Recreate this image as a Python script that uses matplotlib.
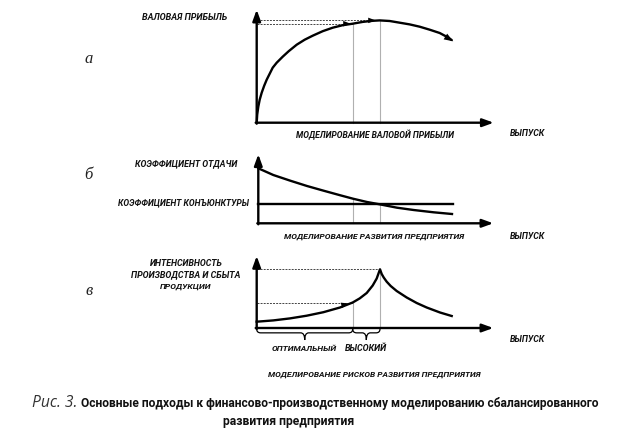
import matplotlib
matplotlib.use('Agg')
import matplotlib.pyplot as plt
from matplotlib import font_manager
from matplotlib.path import Path
from matplotlib.patches import PathPatch

W, H = 623, 429

# all curve values are read off the picture, in pixels measured
# from the origin of each panel (x to the right, y upwards)

# panel а - gross profit
profit_x = [0, 0.5, 1.6, 3, 5, 7.5, 10, 13, 16, 20, 26, 32, 40, 48, 56, 66,
            76, 86, 96, 106, 116, 123, 133, 143, 153, 163, 173, 183, 189, 195]
profit_y = [0, 8, 16, 23, 30, 37, 43, 49, 55, 60, 66, 71.5, 78, 83, 87, 91.5,
            95, 97.5, 99, 100.8, 101.9, 102.3, 101.7, 100, 98.3, 96, 93, 89.7,
            86.5, 82.7]
profit_marks_x = [96, 123]
profit_marks_y = [99, 102.3]

# panel б - return coefficient vs market coefficient
return_x = [0, 15, 32, 48.7, 65.3, 82, 94.7, 108.7, 121.3, 138.7, 155.3,
            175.3, 193.7]
return_y = [55, 48.3, 42.6, 37.3, 32.6, 28, 24.6, 21.3, 19, 15.6, 13.3, 11,
            9.3]
market_level = 19
market_end = 194.7
return_marks_x = [94.5, 121.3]
return_marks_y = [24.6, 19]

# panel в - production and sales intensity
intens_x = [0, 16.7, 33.3, 50, 66.7, 83.3, 96, 103, 110, 116, 120, 123.3,
            125, 127, 130, 134, 140, 150, 160, 170, 183.3, 195]
intens_y = [6.3, 7.6, 9.6, 12.3, 15.8, 20.5, 25.5, 29.6, 35, 42.5, 49.5, 58.7,
            54, 50.5, 46.3, 42, 37, 30.5, 25, 20.5, 15.5, 12]
intens_marks_x = [96, 123.3]
intens_marks_y = [25.5, 58.7]
risk_zones = ['ОПТИМАЛЬНЫЙ', 'ВЫСОКИЙ']

caption_prefix = 'Рис. 3.'
caption_line1 = ('Основные подходы к финансово-производственному '
                 'моделированию сбалансированного')
caption_line2 = 'развития предприятия'


def pick_font(names):
    for name in names:
        try:
            font_manager.findfont(font_manager.FontProperties(family=name),
                                  fallback_to_default=False)
            return name
        except ValueError:
            pass
    return 'DejaVu Sans'


label_font = pick_font(['Liberation Sans Narrow', 'Roboto', 'Liberation Sans'])
caption_font = pick_font(['Roboto', 'Open Sans', 'DejaVu Sans'])
prefix_font = pick_font(['Open Sans', 'Roboto', 'DejaVu Sans'])
letter_font = pick_font(['Liberation Serif', 'DejaVu Serif'])

fig = plt.figure(figsize=(W / 100, H / 100), dpi=100)
renderer = fig.canvas.get_renderer()


def panel(ox, oy):
    # axes in which one data unit is one pixel, origin at (ox, oy)
    ax = fig.add_axes([(ox - 10) / W, (H - oy - 20) / H, 260 / W, 140 / H])
    ax.set_xlim(-10, 250)
    ax.set_ylim(-20, 120)
    ax.set_axis_off()
    ax.patch.set_alpha(0)
    return ax


def axis_arrows(ax, xend, yend):
    style = dict(arrowstyle='-|>,head_length=0.55,head_width=0.2',
                 lw=1.7, color='black', shrinkA=0, shrinkB=0,
                 mutation_scale=12)
    ax.annotate('', xy=(xend, 0), xytext=(-1, 0), arrowprops=style,
                annotation_clip=False)
    ax.annotate('', xy=(0, yend), xytext=(0, -1), arrowprops=style,
                annotation_clip=False)


def head(ax, tip, back, size=9):
    ax.annotate('', xy=tip, xytext=back, annotation_clip=False,
                arrowprops=dict(arrowstyle='-|>,head_length=0.6,head_width=0.22',
                                lw=0, color='black', shrinkA=0, shrinkB=0,
                                mutation_scale=size))


def guides(ax, xs, ys):
    for x, y in zip(xs, ys):
        ax.plot([x, x], [0, y], color='#b0b0b0', lw=0.8, zorder=1)


def dashes(ax, xs, ys):
    for x, y in zip(xs, ys):
        ax.plot([0, x], [y, y], color='#444444', lw=0.7,
                linestyle=(0, (2, 1.2)), zorder=1)


def brace(ax, x0, x1, y0=-1, depth=11, r=4):
    xm = (x0 + x1) / 2
    y1 = y0 - depth * 0.35
    y2 = y0 - depth
    verts = [(x0, y0), (x0, y1), (x0 + r, y1), (xm - r, y1), (xm, y1),
             (xm, y2), (xm, y1), (xm + r, y1), (x1 - r, y1), (x1, y1),
             (x1, y0)]
    codes = [Path.MOVETO, Path.CURVE3, Path.CURVE3, Path.LINETO,
             Path.CURVE3, Path.CURVE3, Path.CURVE3, Path.CURVE3,
             Path.LINETO, Path.CURVE3, Path.CURVE3]
    ax.add_patch(PathPatch(Path(verts, codes), fill=False, lw=0.9,
                           edgecolor='black'))


def label(x, y, s, width, ha='center', grow=1.13, **kw):
    # text is fitted to the width it has in the picture, then enlarged a
    # little since the original face is narrower than the installed one
    kw.setdefault('family', label_font)
    kw.setdefault('fontweight', 'bold')
    kw.setdefault('fontstyle', 'italic')
    kw.setdefault('color', '#111111')
    t = fig.text(x / W, 1 - y / H, s, ha=ha, va='center', fontsize=6, **kw)
    if width:
        bb = t.get_window_extent(renderer)
        t.set_fontsize(t.get_fontsize() * grow * width / bb.width)
    return t


# ---- panel а
ax_a = panel(256.7, 122.7)
axis_arrows(ax_a, 237, 113)
guides(ax_a, profit_marks_x, profit_marks_y)
dashes(ax_a, profit_marks_x, profit_marks_y)
ax_a.plot(profit_x, profit_y, color='black', lw=1.7, solid_capstyle='round')
head(ax_a, (profit_x[-1] + 1.5, profit_y[-1] - 1.3),
     (profit_x[-3], profit_y[-3]), size=11)
head(ax_a, (profit_marks_x[0] - 2, profit_marks_y[0]),
     (profit_marks_x[0] - 10, profit_marks_y[0]))
head(ax_a, (profit_marks_x[1] - 4, profit_marks_y[1]),
     (profit_marks_x[1] - 12, profit_marks_y[1]))

# ---- panel б
ax_b = panel(258.3, 223.3)
axis_arrows(ax_b, 235, 69)
guides(ax_b, return_marks_x, return_marks_y)
ax_b.plot([0, market_end], [market_level, market_level], color='black',
          lw=1.7)
ax_b.plot(return_x, return_y, color='black', lw=1.7)

# ---- panel в
ax_c = panel(256.7, 328)
axis_arrows(ax_c, 236.6, 72)
guides(ax_c, intens_marks_x, intens_marks_y)
dashes(ax_c, intens_marks_x, intens_marks_y)
ax_c.plot(intens_x, intens_y, color='black', lw=1.7)
head(ax_c, (intens_marks_x[0] - 4, intens_marks_y[0] - 1),
     (intens_marks_x[0] - 12, intens_marks_y[0] - 3))
brace(ax_c, 0, intens_marks_x[0])
brace(ax_c, intens_marks_x[0], intens_marks_x[1])

# ---- texts
label(185, 17.8, 'ВАЛОВАЯ ПРИБЫЛЬ', 76)
label(375.5, 135, 'МОДЕЛИРОВАНИЕ ВАЛОВОЙ ПРИБЫЛИ', 148, grow=1.08)
label(527.5, 133, 'ВЫПУСК', 31.5)

label(186.5, 163.3, 'КОЭФФИЦИЕНТ ОТДАЧИ', 91)
label(183, 202.7, 'КОЭФФИЦИЕНТ КОНЪЮНКТУРЫ', 124, grow=1.06)
label(374, 236.7, 'МОДЕЛИРОВАНИЕ РАЗВИТИЯ ПРЕДПРИЯТИЯ', 168, grow=1.08)
label(527.5, 236.7, 'ВЫПУСК', 31.5)

label(186, 264, 'ИНТЕНСИВНОСТЬ', 65)
label(186, 275, 'ПРОИЗВОДСТВА И СБЫТА', 97)
label(185.5, 286.7, 'ПРОДУКЦИИ', 45.6)
label(303.8, 348.3, risk_zones[0], 57.7)
label(366.2, 348.3, risk_zones[1], 37.7)
label(527.5, 339.3, 'ВЫПУСК', 31.5)
label(374.5, 375, 'МОДЕЛИРОВАНИЕ РИСКОВ РАЗВИТИЯ ПРЕДПРИЯТИЯ', 199,
      grow=1.08)

for x, y, s in [(88.8, 59, 'а'), (88.8, 175, 'б'), (88.7, 291, 'в')]:
    fig.text(x / W, 1 - y / H, s, ha='center', va='center', fontsize=12,
             family=letter_font, fontstyle='italic', color='#222222')

cap = label(81, 403.3, caption_line1, 526, ha='left', grow=1.0,
            family=caption_font, fontstyle='normal')
fig.text(77 / W, 1 - 403.3 / H, caption_prefix, ha='right', va='center',
         fontsize=cap.get_fontsize() * 1.3, family=prefix_font,
         fontstyle='italic', color='#333333')
label(288.5, 421.7, caption_line2, 133, grow=1.0, family=caption_font,
      fontstyle='normal')

fig.savefig('out.png', dpi=100)
